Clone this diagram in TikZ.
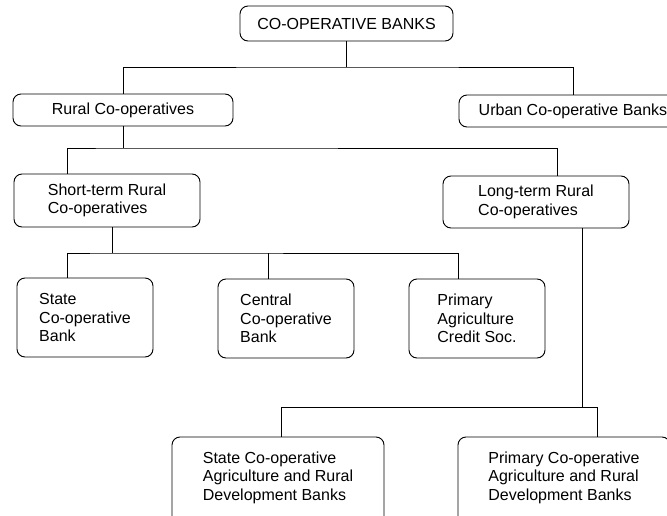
\documentclass[tikz,border=0pt]{standalone}
\usepackage{fontspec}
\setmainfont{Liberation Sans}
\usepackage{tikz}
\usetikzlibrary{calc}

\begin{document}
\begin{tikzpicture}[
    x=0.75pt, y=-0.75pt,
    line width=0.7pt,
    every node/.style={rectangle, draw, rounded corners=6pt, align=left, inner sep=0pt, font=\fontsize{12}{14}\selectfont}
]
\clip (0,0) rectangle (667,515);

% Nodes
\node (banks) at (346.5,23.5) [minimum width=159.75pt, minimum height=26.25pt] {CO-OPERATIVE BANKS};

\node (rural) at (123,110) [minimum width=165pt, minimum height=24pt] {Rural Co-operatives};
\node (urban) at (573,111) [minimum width=171pt, minimum height=24pt] {Urban Co-operative Banks};

\node (short) at (107,200.5) [minimum width=139.5pt, minimum height=39.75pt] {Short-term Rural\\Co-operatives};
\node (long) at (536,202) [minimum width=139.5pt, minimum height=39pt] {Long-term Rural\\Co-operatives};

\node (state) at (85,317.5) [minimum width=102pt, minimum height=59.25pt] {State\\Co-operative\\Bank};
\node (central) at (286,318.5) [minimum width=102pt, minimum height=59.25pt] {Central\\Co-operative\\Bank};
\node (primary) at (477,318.5) [minimum width=102pt, minimum height=59.25pt] {Primary\\Agriculture\\Credit Soc.};

% bottom row runs off the page
\node (stagri) at (278,484) [minimum width=159pt, minimum height=70.5pt, text depth=12pt] {State Co-operative\\Agriculture and Rural\\Development Banks};
\node (pragri) at (564,484) [minimum width=159pt, minimum height=70.5pt, text depth=12pt] {Primary Co-operative\\Agriculture and Rural\\Development Banks};

% Lines
\coordinate (j1) at (346.5,67);
\draw (banks.south) -- (j1);
\draw (rural.north) |- (j1) -| (urban.north);

\coordinate (j2) at (123,148);
\draw (rural.south) -- (j2);
\draw ($(short.north)+(-40,0)$) |- (j2) -| ($(long.north)+(21,0)$);

\coordinate (j3) at (112,253);
\draw ($(short.south)+(5,0)$) -- (j3);
\draw ($(state.north)+(-18,0)$) |- (j3) -| ($(primary.north)+(-19,0)$);
\draw ($(central.north)+(-18,0)$) coordinate (cin) -- (cin |- j3);

\coordinate (j4) at (582,407);
\draw ($(long.south)+(46,0)$) -- (j4);
\draw ($(stagri.north)+(3,0)$) |- (j4) -| ($(pragri.north)+(33,0)$);

\end{tikzpicture}
\end{document}
